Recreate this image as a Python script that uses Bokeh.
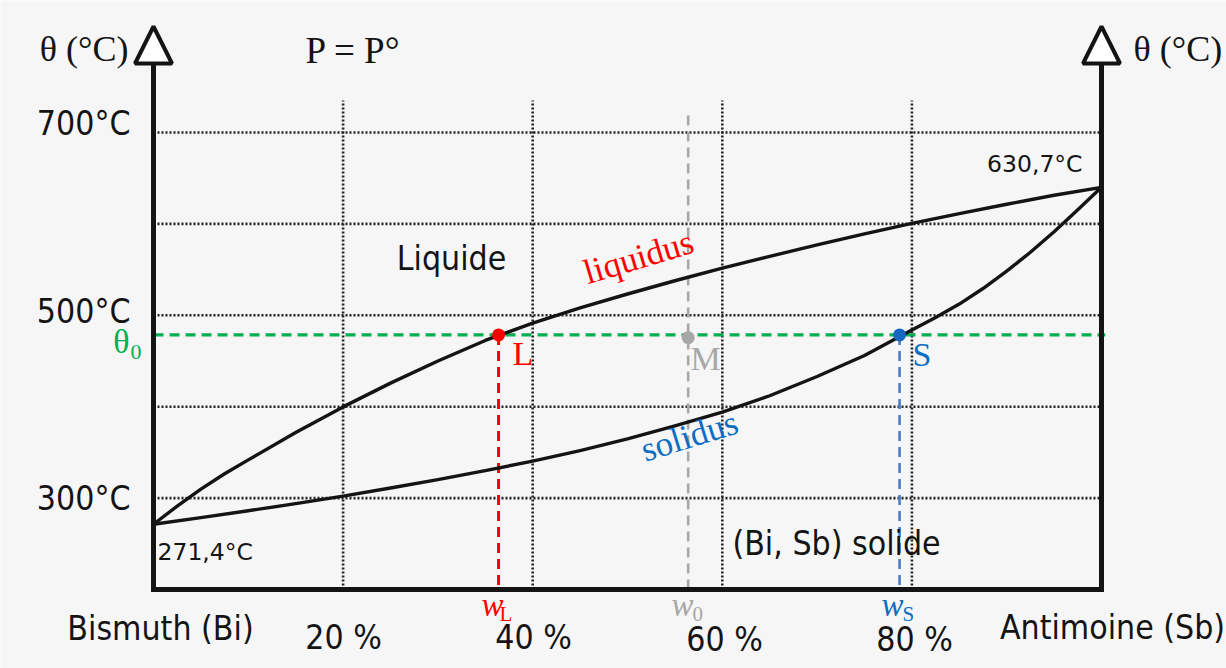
import math
from bokeh.plotting import figure
from bokeh.models import Range1d, Arrow, NormalHead
from bokeh.core.properties import value
from bokeh.embed import file_html
from bokeh.resources import INLINE

# ---------------- data ----------------
w_liq = [0, 2.5, 5, 7.5, 10, 15, 20, 25, 30, 35, 40, 45, 50, 55, 60, 65, 70, 75, 80, 85, 90, 95, 100]
liquidus = [271.4, 291.2, 309.8, 326.6, 341.8, 371.8, 399.8, 425.8, 450.0, 472.5, 491.5, 508.0,
            523.3, 537.8, 551.5, 564.5, 577.0, 589.0, 600.5, 611.3, 621.5, 631.3, 640.0]
w_sol = [0, 5, 10, 15, 20, 25, 30, 35, 40, 45, 50, 55, 60, 65, 70, 75, 80,
         82.5, 85, 87.5, 90, 92.5, 95, 97.5, 100]
solidus = [271.4, 278.7, 286.2, 293.9, 302.2, 311.0, 320.2, 330.0, 340.5, 352.0, 364.7, 379.0,
           394.0, 412.0, 433.0, 456.0, 484.0, 497.5, 512.3, 529.3, 548.3, 569.0, 591.5, 615.5, 640.0]

theta0 = 478.5
point_names = ["L", "M", "S"]
point_w = [36.4, 56.4, 78.7]
point_T = [478.5, 475.5, 478.5]

grid_T = [300, 400, 500, 600, 700]
grid_w = [20, 40, 60, 80]
ytick_labels = ["300°C", "500°C", "700°C"]
xtick_labels = ["Bismuth (Bi)", "20 %", "40 %", "60 %", "80 %", "Antimoine (Sb)"]
T_bottom = 200
bi_label = "271,4°C"
sb_label = "630,7°C"

# ---------------- layout helpers (pixel -> data, for annotations) ----------------
PXW, X0 = 9.48, 153.0
PXT, Y700 = 0.914, 132.0


def X(px):
    return (px - X0) / PXW


def Y(py):
    return 700 - (py - Y700) / PXT


BG = "#f6f6f6"
INK = "#141414"
RED = "#ff0000"
GREEN = "#00b050"
GREY = "#a8a8a8"
BLUE = "#0a6ec4"
BLUE_LINE = "#4a7cc9"
SANS_N = value("DejaVu Sans Condensed")
SANS = value("DejaVu Sans")
SERIF = value("Liberation Serif")

p = figure(width=1226, height=668,
           x_range=Range1d(X(0), X(1226)), y_range=Range1d(Y(668), Y(0)),
           output_backend="svg", toolbar_location=None,
           x_axis_location=None, y_axis_location=None,
           min_border=0, outline_line_color=None,
           background_fill_color=BG, border_fill_color=BG)
p.xgrid.visible = False
p.ygrid.visible = False

# dotted grid
p.segment(x0=[0] * len(grid_T), x1=[100] * len(grid_T), y0=grid_T, y1=grid_T,
          line_color="#222222", line_width=2.6, line_dash="2 2")
p.segment(x0=grid_w, x1=grid_w, y0=[T_bottom] * len(grid_w), y1=[Y(100)] * len(grid_w),
          line_color="#222222", line_width=2.6, line_dash="2 2")

# dashed construction lines
p.segment(x0=[point_w[0]], x1=[point_w[0]], y0=[point_T[0]], y1=[T_bottom],
          line_color=RED, line_width=3, line_dash="10 6")
p.segment(x0=[point_w[1]], x1=[point_w[1]], y0=[Y(115)], y1=[T_bottom],
          line_color=GREY, line_width=2.6, line_dash="10 6")
p.segment(x0=[point_w[2]], x1=[point_w[2]], y0=[point_T[2]], y1=[T_bottom],
          line_color=BLUE_LINE, line_width=2.6, line_dash="10 6")
p.segment(x0=[0], x1=[100.4], y0=[theta0], y1=[theta0],
          line_color=GREEN, line_width=3.2, line_dash="10 6")

# curves
p.line(w_liq, liquidus, line_color=INK, line_width=3.4, line_join="round")
p.line(w_sol, solidus, line_color=INK, line_width=3.4, line_join="round")

# points
p.scatter(point_w, point_T, size=13, fill_color=[RED, GREY, "#1468c0"], line_color=None)

# axes (lines with open arrow heads)
p.line([0, 100], [T_bottom, T_bottom], line_color=INK, line_width=5, line_cap="square")
for xa in (0, 100):
    p.add_layout(Arrow(end=NormalHead(size=37, fill_color="white", line_color=INK, line_width=4),
                       x_start=xa, y_start=T_bottom, x_end=xa, y_end=Y(26),
                       line_color=INK, line_width=5))


def txt(px, py, s, font, size, color=INK, align="left", angle=0.0, style="normal"):
    """Place text with its baseline at pixel (px, py); compensates renderer baseline offset."""
    d = 0.4 * size
    ax = px - d * math.sin(angle)
    ay = py - d * math.cos(angle)
    p.text(x=[X(ax)], y=[Y(ay)], text=[s], text_font=font, text_font_size=f"{size}px",
           text_color=color, text_align=align, text_baseline="alphabetic",
           angle=angle, text_font_style=style)


# axis titles
txt(128, 63, "θ (°C)", SERIF, 36, align="right")
txt(1133, 63, "θ (°C)", SERIF, 36)
txt(305, 65, "P = P°", SERIF, 37)

# y tick labels
for lab, py in zip(ytick_labels, [511, 324, 136]):
    txt(130, py, lab, SANS_N, 33.5, align="right")

# x tick labels
for lab, cx, py in zip(xtick_labels, [160, 343, 533, 724, 914, 1112],
                       [641, 650, 650, 652, 652, 640]):
    txt(cx, py, lab, SANS_N, 33.5, align="center")

# region names
txt(451, 271, "Liquide", SANS_N, 33.5, align="center")
txt(836, 556, "(Bi, Sb) solide", SANS_N, 33.5, align="center")

# melting points
txt(1082, 173, sb_label, SANS, 23.5, align="right")
txt(157, 561, bi_label, SANS, 23.5)

# curve names
txt(642, 270, "liquidus", SERIF, 35, color=RED, align="center", angle=0.29)
txt(693, 449, "solidus", SERIF, 35, color=BLUE, align="center", angle=0.30)

# point names
txt(512, 367, point_names[0], SERIF, 34, color=RED)
txt(690, 372, point_names[1], SERIF, 34, color=GREY)
txt(912, 368, point_names[2], SERIF, 34, color=BLUE)

# theta0
txt(129, 355, "θ", SERIF, 34, color=GREEN, align="right")
txt(130, 360, "0", SERIF, 22, color=GREEN)

# compositions on the axis
for wl, sub, col, pxw, pxs in [("w", "L", RED, 481, 499), ("w", "0", GREY, 671, 692), ("w", "S", BLUE, 881, 902)]:
    txt(pxw, 618, wl, SERIF, 33, color=col, style="italic")
    txt(pxs, 622, sub, SERIF, 21, color=col)

open("out.html", "w").write(file_html(p, INLINE))
